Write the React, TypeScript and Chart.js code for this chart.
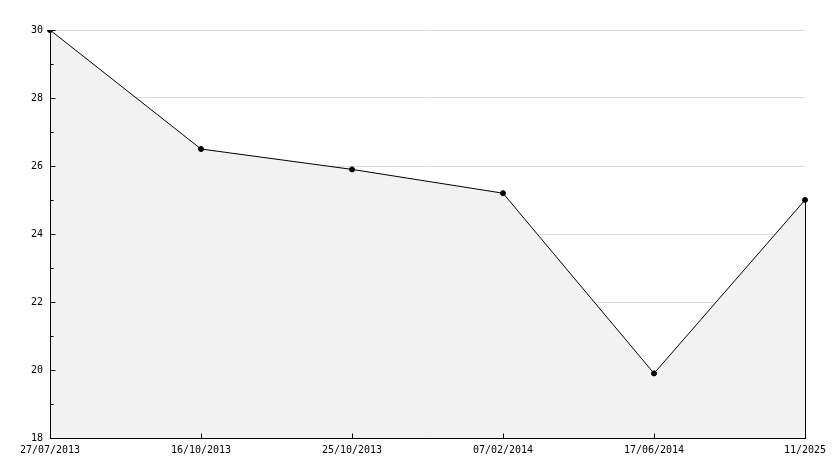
import React, { useEffect, useRef } from "react";
import { Chart, registerables } from "chart.js";

Chart.register(...registerables);

const categories = ["27/07/2013", "16/10/2013", "25/10/2013", "07/02/2014", "17/06/2014", "11/2025"];
const values = [30, 26.5, 25.9, 25.2, 19.9, 25.0];
const yMin = 18;
const yMax = 30;
const yStep = 2;
const minorTicks = [19, 21, 23, 25, 27, 29];

const FONT = "'DejaVu Sans Mono', monospace";

const axesPlugin = {
  id: "customAxes",
  afterDatasetsDraw(chart: any) {
    const ctx = chart.ctx;
    const { left, right, top, bottom } = chart.chartArea;
    const ys = chart.scales.y;
    const xs = chart.scales.x;
    const al = (v: number) => Math.round(v) + 0.5;
    ctx.save();
    ctx.strokeStyle = "#000";
    ctx.lineWidth = 1;
    ctx.beginPath();
    // y axis line
    ctx.moveTo(al(left), top);
    ctx.lineTo(al(left), al(bottom) + 0.5);
    // x axis line
    ctx.moveTo(al(left), al(bottom));
    ctx.lineTo(al(right) + 0.5, al(bottom));
    // major y ticks
    for (let v = yMin + yStep; v <= yMax; v += yStep) {
      const py = al(ys.getPixelForValue(v));
      ctx.moveTo(al(left), py);
      ctx.lineTo(al(left) + 5, py);
    }
    // minor y ticks
    for (const v of minorTicks) {
      const py = al(ys.getPixelForValue(v));
      ctx.moveTo(al(left), py);
      ctx.lineTo(al(left) + 3, py);
    }
    // x ticks
    for (let i = 1; i < categories.length - 1; i++) {
      const px = al(xs.getPixelForValue(i));
      ctx.moveTo(px, al(bottom));
      ctx.lineTo(px, al(bottom) - 5);
    }
    // right edge of filled area
    const lastI = values.length - 1;
    const lx = al(xs.getPixelForValue(lastI));
    const ly = ys.getPixelForValue(values[lastI]);
    ctx.moveTo(lx, ly);
    ctx.lineTo(lx, al(bottom));
    ctx.stroke();
    ctx.restore();
  },
};

export default function App() {
  const ref = useRef<HTMLCanvasElement | null>(null);
  useEffect(() => {
    document.body.style.margin = "0";
    const canvas = ref.current;
    if (!canvas) return;
    const chart = new Chart(canvas, {
      type: "line",
      data: {
        labels: categories,
        datasets: [
          {
            data: values,
            borderColor: "#000",
            borderWidth: 1,
            backgroundColor: "#f2f2f2",
            fill: "start",
            tension: 0,
            pointRadius: 2.5,
            pointBackgroundColor: "#000",
            pointBorderColor: "#000",
            pointBorderWidth: 1,
            pointStyle: "circle",
          },
        ],
      },
      options: {
        animation: false,
        responsive: false,
        maintainAspectRatio: false,
        devicePixelRatio: 1,
        layout: { padding: { top: 30, right: 29, left: 0, bottom: 0 } },
        plugins: { legend: { display: false }, tooltip: { enabled: false } },
        scales: {
          x: {
            type: "category",
            offset: false,
            grid: { display: false, drawTicks: false },
            border: { display: false },
            ticks: {
              color: "#000",
              font: { family: FONT, size: 10 },
              padding: 6,
              maxRotation: 0,
              autoSkip: false,
            },
            afterFit(scale: any) {
              scale.height = 30;
              scale.paddingLeft = 0;
              scale.paddingRight = 0;
            },
          },
          y: {
            min: yMin,
            max: yMax,
            grid: { color: "#dcdcdc", drawTicks: false, lineWidth: 1 },
            border: { display: false },
            ticks: {
              stepSize: yStep,
              color: "#000",
              font: { family: FONT, size: 10 },
              padding: 7,
            },
            afterFit(scale: any) {
              scale.width = 50;
              scale.paddingTop = 0;
              scale.paddingBottom = 0;
            },
          },
        },
      },
      plugins: [axesPlugin],
    });
    return () => chart.destroy();
  }, []);
  return (
    <div style={{ width: 834, height: 468, background: "#fff" }}>
      <canvas ref={ref} width={834} height={468} style={{ display: "block" }} />
    </div>
  );
}
